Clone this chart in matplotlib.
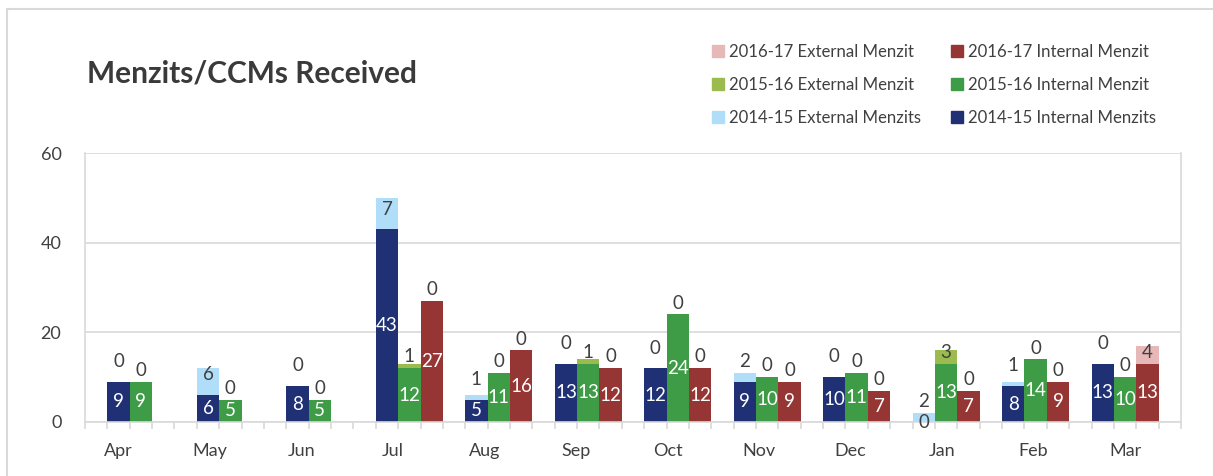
import numpy as np
import matplotlib
matplotlib.use("Agg")
import matplotlib.pyplot as plt
from matplotlib.patches import Patch, Rectangle

# ---- data ----
MONTHS = ["Apr", "May", "Jun", "Jul", "Aug", "Sep", "Oct", "Nov", "Dec", "Jan", "Feb", "Mar"]
INT_1415 = [9, 6, 8, 43, 5, 13, 12, 9, 10, 0, 8, 13]
EXT_1415 = [0, 6, 0, 7, 1, 0, 0, 2, 0, 2, 1, 0]
INT_1516 = [9, 5, 5, 12, 11, 13, 24, 10, 11, 13, 14, 10]
EXT_1516 = [0, 0, 0, 1, 0, 1, 0, 0, 0, 3, 0, 0]
INT_1617 = [np.nan, np.nan, np.nan, 27, 16, 12, 12, 9, 7, 7, 9, 13]
EXT_1617 = [np.nan, np.nan, np.nan, 0, 0, 0, 0, 0, 0, 0, 0, 4]

# palette (Excel-ish)
C_NAVY, C_LBLUE = "#1F3174", "#B0DDF8"
C_GREEN, C_LGREEN = "#3F9C46", "#9BBB4F"
C_RED, C_PINK = "#963634", "#E6B8B7"
TXT = "#404040"
GRID = "#D9D9D9"

plt.rcParams.update({"font.family": ["Lato", "DejaVu Sans"], "font.size": 13.5})

SERIES = [
    # internal, external, int colour, ext colour, ext-label lift (data units)
    (INT_1415, EXT_1415, C_NAVY, C_LBLUE, 4.5),
    (INT_1516, EXT_1516, C_GREEN, C_LGREEN, 2.5),
    (INT_1617, EXT_1617, C_RED, C_PINK, 2.5),
]

fig = plt.figure(figsize=(12.13, 4.76), dpi=100)
ax = fig.add_axes([85 / 1213, 1 - 422 / 476, (1181 - 85) / 1213, (422 - 153) / 476])

# chart frame (left + top edges visible in the reference)
fig.patches.append(Rectangle((7 / 1213, -0.1), 1.2, 1 - 9 / 476 + 0.1, transform=fig.transFigure,
                             fill=False, edgecolor=GRID, lw=1.5))

n = len(MONTHS)
for s, (inner, outer, ci, co, lift) in enumerate(SERIES):
    inner = np.array(inner, dtype=float); outer = np.array(outer, dtype=float)
    x = np.arange(n) * 4 + 1.5 + s
    ok = ~np.isnan(inner)
    ax.bar(x[ok], inner[ok], 1.0, color=ci, zorder=2)
    ax.bar(x[ok], outer[ok], 1.0, bottom=inner[ok], color=co, zorder=2)
    for xi, vi, vo in zip(x[ok], inner[ok], outer[ok]):
        ax.text(xi, vi / 2, f"{vi:.0f}", ha="center", va="center",
                color="white" if vi > 0 else TXT, zorder=3)
        ax.text(xi, vi + max(lift, vo / 2), f"{vo:.0f}", ha="center", va="center",
                color=TXT, zorder=3)

ax.set_xlim(0, 4 * n + 1)
ax.set_ylim(0, 60)
ax.set_yticks([0, 20, 40, 60])
ax.yaxis.grid(True, color=GRID, lw=1.2, zorder=0)
ax.set_axisbelow(True)
ax.tick_params(axis="y", length=0, pad=17, colors=TXT, labelsize=13)

lab_x = 1.5 + np.arange(n) * 45 / 11
ax.set_xticks(lab_x)
ax.set_xticklabels(MONTHS)
ax.set_xticks(np.arange(0, 4 * n + 2), minor=True)
ax.tick_params(axis="x", which="major", length=0, pad=15, colors=TXT, labelsize=13)
ax.tick_params(axis="x", which="minor", length=5, color=GRID, width=1.2)

for side in ("left", "right", "bottom"):
    ax.spines[side].set_color(GRID)
    ax.spines[side].set_linewidth(1.2)
ax.spines["top"].set_visible(False)

fig.text(87 / 1213, 1 - 74 / 476, "Menzits/CCMs Received", fontsize=21.5, fontweight="bold",
         color="#3A3A3A", ha="left", va="center")

handles = [Patch(color=C_PINK), Patch(color=C_LGREEN), Patch(color=C_LBLUE),
           Patch(color=C_RED), Patch(color=C_GREEN), Patch(color=C_NAVY)]
labels = ["2016-17 External Menzit", "2015-16 External Menzit", "2014-15 External Menzits",
          "2016-17 Internal Menzit", "2015-16 Internal Menzit", "2014-15 Internal Menzits"]
fig.legend(handles, labels, ncol=2, loc="upper left", bbox_to_anchor=(697 / 1213, 1 - 29 / 476),
           frameon=False, fontsize=12.1, handlelength=0.7, handleheight=0.7, handletextpad=0.3,
           labelspacing=1.0, columnspacing=1.8, labelcolor=TXT)

fig.savefig("out.png", dpi=100)
